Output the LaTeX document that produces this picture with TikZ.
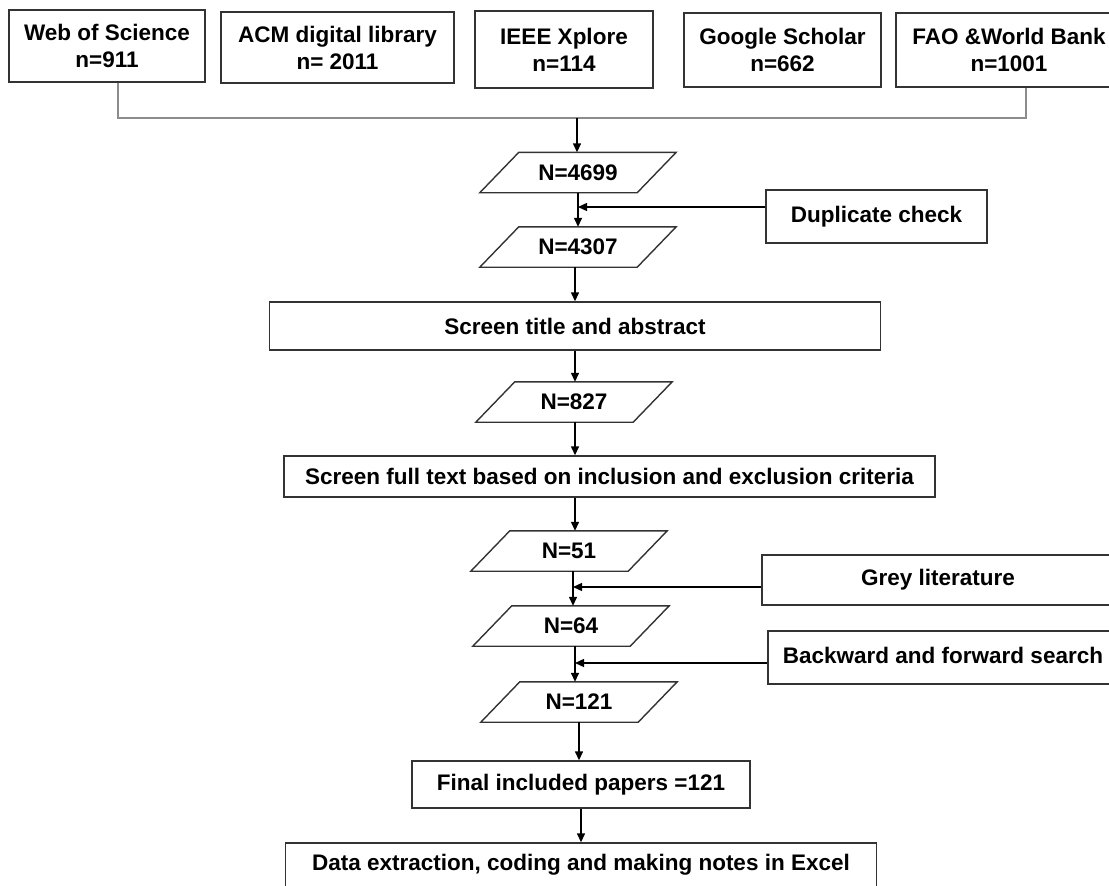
\documentclass[tikz,border=0pt]{standalone}
\usepackage{fontspec}
\setmainfont{Liberation Sans}
\usetikzlibrary{arrows.meta,positioning}
\tikzstyle{srcbox}=[draw=black!80,line width=1.4pt,align=center,inner sep=0pt]
\tikzstyle{stepbox}=[draw=black!80,line width=1.4pt,inner sep=0pt]
\tikzstyle{countbox}=[minimum width=157pt,minimum height=40pt,inner sep=0pt]
\tikzstyle{slanted}=[draw=black!80,line width=1.4pt]
\tikzstyle{flow}=[line width=1.4pt,-{Triangle[length=9pt,width=8pt]}]
\tikzstyle{merge}=[line width=1.4pt,black!45]

\begin{document}
\begin{tikzpicture}[x=1pt,y=-1pt,font=\fontsize{22.5}{27}\selectfont\bfseries]
    \useasboundingbox (0,0) rectangle (1109,886);
    % sources
    \node [srcbox,minimum width=196pt,minimum height=72pt] (wos) at (107,46) {Web of Science\\n=911};
    \node [srcbox,minimum width=233pt,minimum height=71pt] (acm) at (337.5,47.5) {ACM digital library\\n= 2011};
    \node [srcbox,minimum width=178pt,minimum height=77pt] (ieee) at (564,49.5) {IEEE Xplore\\n=114};
    \node [srcbox,minimum width=197pt,minimum height=74pt] (gs) at (782.5,50) {Google Scholar\\n=662};
    \node [srcbox,minimum width=226pt,minimum height=74pt] (fao) at (1009,50) {FAO \&World Bank\\n=1001};
    \coordinate (jl) at (118,118);
    \coordinate (jr) at (1026,118);
    \coordinate (jm) at (577,118);
    \draw [merge] (wos.south -| jl) -- (jl) -- (jr) -- (fao.south -| jr);

    % main flow
    \node [countbox] (n1) at (578,172.5) {N=4699};
    \node [stepbox,minimum width=221pt,minimum height=53pt] (dup) at (876.5,216.5) {Duplicate check};
    \node [countbox] (n2) at (578,247) {N=4307};
    \node [stepbox,minimum width=611pt,minimum height=48pt] (title) at (575,326) {Screen title and abstract};
    \node [countbox] (n3) at (574,402) {N=827};
    \node [stepbox,minimum width=651pt,minimum height=41pt] (full) at (609.5,476.5) {Screen full text based on inclusion and exclusion criteria};
    \node [countbox] (n4) at (569,551) {N=51};
    \node [stepbox,minimum width=352pt,minimum height=50pt] (grey) at (938,580) {Grey literature};
    \node [countbox] (n5) at (571,626) {N=64};
    \node [stepbox,minimum width=350pt,minimum height=53pt] (back) at (943,657.5) {\raisebox{5pt}{Backward and forward search}};
    \node [countbox] (n6) at (579,702) {N=121};
    \node [stepbox,minimum width=338pt,minimum height=47pt] (final) at (581,784.5) {Final included papers =121};
    \node [stepbox,minimum width=591pt,minimum height=44pt] (data) at (581,865) {Data extraction, coding and making notes in Excel};

    \foreach \c in {n1,n2,n3,n4,n5,n6}
      \draw [slanted] ([xshift=-19.5pt]\c.south west) -- ([xshift=-19.5pt]\c.south east)
        -- ([xshift=19.5pt]\c.north east) -- ([xshift=19.5pt]\c.north west) -- cycle;

    \draw [flow] (jm) -- (n1.north -| jm);
    \draw [flow] (n1.south) -- (n2.north);
    \draw [flow] ([yshift=9.5pt]dup.west) -- ([yshift=9.5pt]dup.west -| n1.south);
    \draw [flow] (n2.south -| title.north) -- (title.north);
    \draw [flow] (title.south) -- (title.south |- n3.north);
    \draw [flow] (title.south |- n3.south) -- (title.south |- full.north);
    \draw [flow] (full.south -| title.south) -- (title.south |- n4.north);
    \draw [flow] (n4.south -| 573,0) -- (n5.north -| 573,0);
    \draw [flow] ([yshift=-7pt]grey.west) -- ([yshift=-7pt]grey.west -| 573,0);
    \draw [flow] (n5.south -| 575,0) -- (n6.north -| 575,0);
    \draw [flow] ([yshift=-5.5pt]back.west) -- ([yshift=-5.5pt]back.west -| 575,0);
    \draw [flow] (n6.south) -- (n6.south |- final.north);
    \draw [flow] (final.south) -- (data.north);
\end{tikzpicture}
\end{document}
